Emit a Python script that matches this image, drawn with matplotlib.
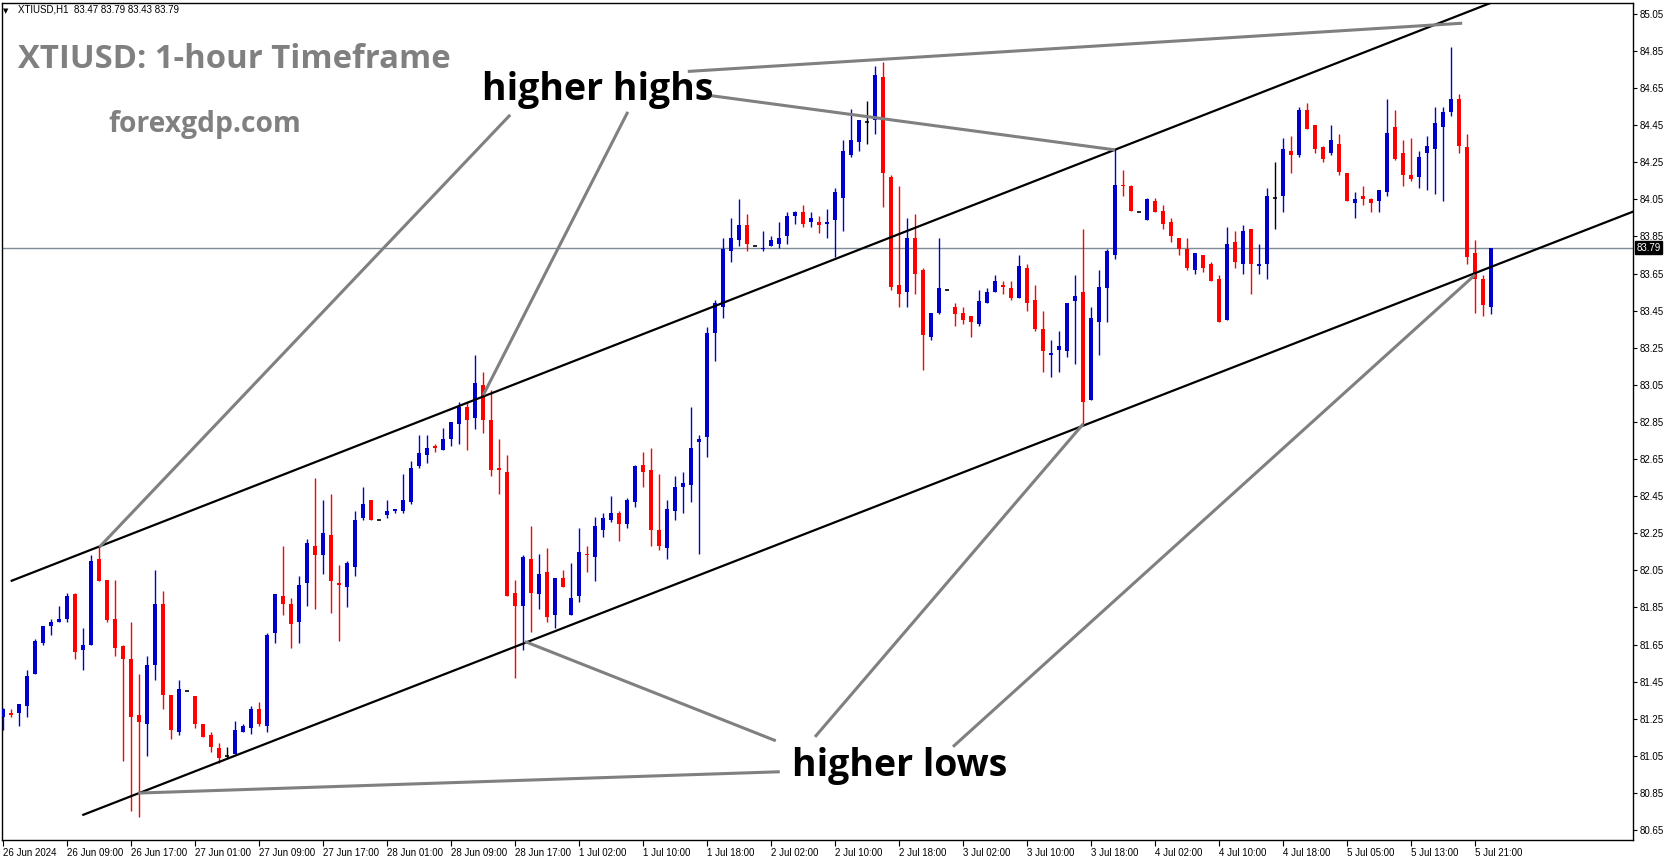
import matplotlib.pyplot as plt
import matplotlib.transforms as mtransforms

# hourly candles, 26 Jun 2024 -> 5 Jul 2024
opens = [81.26, 81.28, 81.28, 81.32, 81.49, 81.66, 81.75, 81.77, 81.79, 81.92,
         81.62, 81.65, 82.11, 82.00, 81.79, 81.64, 81.57, 81.27, 81.22, 81.54,
         81.87, 81.38, 81.18, 81.40, 81.37, 81.22, 81.16, 81.09, 81.05, 81.06,
         81.18, 81.20, 81.30, 81.21, 81.71, 81.91, 81.87, 81.77, 81.98, 82.18,
         82.13, 82.24, 81.98, 81.96, 82.07, 82.33, 82.43, 82.32, 82.35, 82.37,
         82.37, 82.42, 82.61, 82.67, 82.72, 82.70, 82.76, 82.84, 82.93, 82.87,
         83.05, 82.86, 82.60, 82.58, 81.93, 81.86, 82.11, 81.92, 82.04, 81.81,
         82.01, 81.81, 81.91, 82.14, 82.12, 82.27, 82.32, 82.36, 82.30, 82.42,
         82.62, 82.59, 82.27, 82.17, 82.37, 82.50, 82.51, 82.74, 82.77, 83.33,
         83.47, 83.77, 83.83, 83.91, 83.80, 83.78, 83.80, 83.81, 83.85, 83.96,
         83.98, 83.93, 83.93, 83.92, 83.94, 84.06, 84.29, 84.36, 84.47, 84.48,
         84.71, 84.17, 83.59, 83.55, 83.84, 83.67, 83.31, 83.44, 83.56, 83.47,
         83.44, 83.42, 83.38, 83.49, 83.55, 83.59, 83.57, 83.52, 83.68, 83.51,
         83.35, 83.21, 83.24, 83.23, 83.50, 83.55, 82.97, 83.39, 83.57, 83.75,
         84.13, 84.12, 83.98, 83.94, 84.04, 83.99, 83.93, 83.84, 83.78, 83.67,
         83.75, 83.70, 83.62, 83.40, 83.82, 83.70, 83.89, 83.69, 83.70, 84.06,
         84.07, 84.31, 84.29, 84.53, 84.45, 84.33, 84.30, 84.35, 84.19, 84.03,
         84.07, 84.05, 84.04, 84.09, 84.44, 84.30, 84.18, 84.17, 84.30, 84.32,
         84.44, 84.52, 84.59, 84.33, 83.76, 83.62, 83.47]
highs = [81.31, 81.30, 81.33, 81.51, 81.68, 81.75, 81.79, 81.86, 81.93, 81.93,
         81.74, 82.13, 82.18, 82.00, 82.00, 81.65, 81.77, 81.49, 81.59, 82.05,
         81.94, 81.38, 81.46, 81.40, 81.37, 81.22, 81.18, 81.12, 81.10, 81.24,
         81.22, 81.32, 81.34, 81.71, 81.92, 82.18, 81.90, 82.02, 82.22, 82.55,
         82.43, 82.46, 82.08, 82.10, 82.37, 82.50, 82.43, 82.32, 82.43, 82.38,
         82.57, 82.64, 82.78, 82.78, 82.73, 82.82, 82.85, 82.96, 82.96, 83.21,
         83.12, 83.02, 82.76, 82.67, 82.00, 82.13, 82.29, 82.14, 82.17, 82.01,
         82.05, 82.09, 82.28, 82.18, 82.34, 82.36, 82.45, 82.37, 82.44, 82.62,
         82.69, 82.71, 82.57, 82.43, 82.56, 82.58, 82.93, 82.78, 83.36, 83.51,
         83.84, 83.95, 84.05, 83.97, 83.80, 83.88, 83.85, 83.93, 83.98, 83.99,
         84.02, 83.98, 83.96, 84.00, 84.11, 84.37, 84.54, 84.48, 84.58, 84.77,
         84.79, 84.18, 84.12, 83.95, 83.97, 83.68, 83.44, 83.84, 83.56, 83.49,
         83.47, 83.42, 83.56, 83.57, 83.64, 83.61, 83.61, 83.75, 83.70, 83.59,
         83.45, 83.29, 83.34, 83.49, 83.64, 83.89, 83.47, 83.67, 83.78, 84.32,
         84.21, 84.13, 83.98, 84.06, 84.06, 84.02, 83.95, 83.84, 83.84, 83.76,
         83.75, 83.71, 83.64, 83.90, 83.88, 83.91, 83.89, 83.81, 84.11, 84.25,
         84.38, 84.39, 84.55, 84.57, 84.45, 84.34, 84.45, 84.40, 84.19, 84.09,
         84.12, 84.06, 84.10, 84.59, 84.53, 84.37, 84.38, 84.31, 84.39, 84.55,
         84.55, 84.87, 84.62, 84.40, 83.83, 83.64, 83.79]
lows = [81.19, 81.26, 81.21, 81.26, 81.49, 81.65, 81.70, 81.77, 81.77, 81.57,
        81.51, 81.65, 81.99, 81.77, 81.59, 81.02, 80.75, 80.72, 81.05, 81.46,
        81.30, 81.14, 81.16, 81.40, 81.20, 81.15, 81.07, 81.01, 81.04, 81.06,
        81.18, 81.17, 81.21, 81.18, 81.66, 81.81, 81.63, 81.66, 81.86, 81.84,
        82.03, 81.82, 81.67, 81.85, 82.02, 82.32, 82.32, 82.32, 82.33, 82.36,
        82.36, 82.41, 82.60, 82.63, 82.69, 82.70, 82.72, 82.73, 82.70, 82.81,
        82.79, 82.56, 82.46, 81.91, 81.47, 81.62, 81.72, 81.84, 81.77, 81.74,
        81.96, 81.81, 81.88, 82.04, 81.99, 82.23, 82.31, 82.21, 82.28, 82.39,
        82.50, 82.18, 82.16, 82.11, 82.32, 82.36, 82.42, 82.14, 82.66, 83.18,
        83.41, 83.71, 83.80, 83.77, 83.80, 83.77, 83.80, 83.79, 83.81, 83.92,
        83.90, 83.90, 83.87, 83.84, 83.74, 83.88, 84.28, 84.31, 84.35, 84.40,
        84.01, 83.56, 83.47, 83.47, 83.54, 83.13, 83.29, 83.43, 83.56, 83.37,
        83.38, 83.31, 83.37, 83.49, 83.55, 83.54, 83.51, 83.52, 83.45, 83.34,
        83.12, 83.09, 83.12, 83.20, 83.16, 82.84, 82.97, 83.21, 83.39, 83.73,
        84.07, 83.99, 83.98, 83.94, 83.98, 83.89, 83.82, 83.75, 83.67, 83.65,
        83.66, 83.61, 83.39, 83.40, 83.68, 83.65, 83.54, 83.65, 83.62, 83.89,
        83.98, 84.19, 84.28, 84.43, 84.30, 84.25, 84.29, 84.18, 84.04, 83.95,
        84.02, 83.98, 83.98, 84.07, 84.26, 84.12, 84.15, 84.11, 84.10, 84.08,
        84.04, 84.50, 84.30, 83.70, 83.44, 83.42, 83.43]
closes = [81.30, 81.27, 81.33, 81.48, 81.67, 81.75, 81.77, 81.79, 81.91, 81.61,
          81.65, 82.10, 81.99, 81.78, 81.63, 81.57, 81.26, 81.23, 81.54, 81.87,
          81.38, 81.19, 81.41, 81.40, 81.22, 81.15, 81.10, 81.04, 81.05, 81.19,
          81.21, 81.30, 81.22, 81.70, 81.92, 81.87, 81.76, 81.97, 82.20, 82.13,
          82.25, 81.99, 81.97, 82.09, 82.32, 82.41, 82.32, 82.32, 82.37, 82.38,
          82.43, 82.60, 82.68, 82.71, 82.71, 82.76, 82.85, 82.93, 82.86, 83.06,
          82.86, 82.59, 82.59, 81.91, 81.86, 82.12, 81.93, 82.03, 81.80, 82.01,
          81.96, 81.90, 82.15, 82.13, 82.29, 82.33, 82.36, 82.30, 82.43, 82.61,
          82.58, 82.27, 82.18, 82.38, 82.50, 82.52, 82.71, 82.76, 83.33, 83.49,
          83.78, 83.84, 83.91, 83.81, 83.80, 83.79, 83.83, 83.84, 83.96, 83.98,
          83.92, 83.95, 83.91, 83.93, 84.09, 84.31, 84.37, 84.48, 84.47, 84.72,
          84.19, 83.58, 83.54, 83.84, 83.65, 83.32, 83.44, 83.57, 83.56, 83.43,
          83.40, 83.39, 83.50, 83.55, 83.61, 83.58, 83.52, 83.69, 83.49, 83.35,
          83.23, 83.22, 83.26, 83.49, 83.53, 82.96, 83.41, 83.58, 83.77, 84.13,
          84.12, 83.99, 83.98, 84.05, 83.98, 83.92, 83.85, 83.78, 83.68, 83.76,
          83.68, 83.61, 83.39, 83.81, 83.71, 83.88, 83.70, 83.70, 84.07, 84.06,
          84.32, 84.29, 84.53, 84.43, 84.32, 84.27, 84.37, 84.20, 84.04, 84.05,
          84.05, 84.03, 84.10, 84.41, 84.27, 84.18, 84.16, 84.28, 84.34, 84.46,
          84.52, 84.59, 84.34, 83.74, 83.62, 83.48, 83.79]

time_labels = ["26 Jun 2024", "26 Jun 09:00", "26 Jun 17:00", "27 Jun 01:00",
               "27 Jun 09:00", "27 Jun 17:00", "28 Jun 01:00", "28 Jun 09:00",
               "28 Jun 17:00", "1 Jul 02:00", "1 Jul 10:00", "1 Jul 18:00",
               "2 Jul 02:00", "2 Jul 10:00", "2 Jul 18:00", "3 Jul 02:00",
               "3 Jul 10:00", "3 Jul 18:00", "4 Jul 02:00", "4 Jul 10:00",
               "4 Jul 18:00", "5 Jul 05:00", "5 Jul 13:00", "5 Jul 21:00"]
bars_per_label = 8

price_labels = ["85.05", "84.85", "84.65", "84.45", "84.25", "84.05", "83.85",
                "83.65", "83.45", "83.25", "83.05", "82.85", "82.65", "82.45",
                "82.25", "82.05", "81.85", "81.65", "81.45", "81.25", "81.05",
                "80.85", "80.65"]
last_price = 83.79

# channel lines (bar index, price)
upper_channel = ([1.09, 186.0], [81.994, 85.11])
lower_channel = ([10.04, 203.75], [80.732, 83.984])

# annotation pointers (bar index, price)
highs_pointers = [([85.6, 182.4], [84.74, 85.0]),
                  ([88.4, 139.0], [84.61, 84.317]),
                  ([63.4, 12.04], [84.506, 82.175]),
                  ([78.1, 60.04], [84.522, 82.996])]
lows_pointers = [([96.6, 65.25], [81.131, 81.666]),
                 ([97.1, 16.9], [80.964, 80.849]),
                 ([101.5, 135.04], [81.152, 82.84]),
                 ([118.75, 184.0], [81.099, 83.643])]


W, H = 1673, 861
fig = plt.figure(figsize=(W / 100, H / 100), dpi=100)
ax = fig.add_axes([2 / W, 1 - 840 / H, 1631 / W, 837 / H])

bull = '#0000CD'
bear = '#FF0000'
body_w = 0.62

for i in range(len(opens)):
    o, h, l, c = opens[i], highs[i], lows[i], closes[i]
    if c > o:
        col = bull
    elif c < o:
        col = bear
    else:
        col = 'black'
    ax.vlines(i, l, h, colors=col, lw=1.0, zorder=3)
    if c == o:
        ax.hlines(o, i - body_w / 2, i + body_w / 2, colors=col, lw=1.2, zorder=4)
    else:
        ax.bar(i, max(abs(c - o), 0.008), bottom=min(o, c), width=body_w,
               color=col, edgecolor=col, lw=0, zorder=4)

ax.axhline(last_price, color='#7f8c9a', lw=1.0, zorder=2)

ax.plot(*upper_channel, color='black', lw=1.6, zorder=5)
ax.plot(*lower_channel, color='black', lw=1.6, zorder=5)
for xs, ys in highs_pointers + lows_pointers:
    ax.plot(xs, ys, color='#808080', lw=2.2, zorder=6, solid_capstyle='butt')

ax.text(59.9, 84.64, "higher highs", fontsize=27, fontweight='bold',
        family='Open Sans', color='black', ha='left', va='center', zorder=7)
ax.text(98.6, 80.995, "higher lows", fontsize=27, fontweight='bold',
        family='Open Sans', color='black', ha='left', va='center', zorder=7)

ax.set_xlim(-0.125, 203.75)
ax.set_ylim(80.596, 85.109)

# axis styling, MT4 look
ax.yaxis.tick_right()
ax.set_yticks([float(p) for p in price_labels])
ax.set_yticklabels(price_labels, family='Liberation Sans', fontsize=7)
ax.tick_params(axis='y', direction='out', length=3, width=0.8, pad=2)
ax.set_xticks([k * bars_per_label for k in range(len(time_labels))])
ax.set_xticklabels(time_labels, family='Liberation Sans', fontsize=7)
for lbl in ax.get_xticklabels():
    lbl.set_horizontalalignment('left')
ax.tick_params(axis='x', direction='out', length=4, width=0.8, pad=2)
for sp in ax.spines.values():
    sp.set_color('black')
    sp.set_linewidth(1.0)

trans = mtransforms.blended_transform_factory(ax.transAxes, ax.transData)
ax.text(1.002, last_price, "83.79", transform=trans, fontsize=7,
        family='Liberation Sans', color='white', ha='left', va='center',
        bbox=dict(boxstyle='square,pad=0.15', fc='black', ec='black'), zorder=8)

fig.text(3 / W, 1 - 11 / H, "\u25BC", fontsize=5, color='black',
         ha='left', va='center')
fig.text(18 / W, 1 - 10 / H, "XTIUSD,H1  83.47 83.79 83.43 83.79",
         fontsize=7, family='Liberation Sans', color='black',
         ha='left', va='center')
fig.text(18 / W, 1 - 68 / H, "XTIUSD: 1-hour Timeframe", fontsize=23.7,
         fontweight='bold', family='Open Sans', color='#808080',
         ha='left', va='baseline')
fig.text(108 / W, 1 - 132 / H, "forexgdp.com", fontsize=20.3,
         fontweight='bold', family='Open Sans', color='#808080',
         ha='left', va='baseline')

fig.savefig('out.png', dpi=100, facecolor='white')
